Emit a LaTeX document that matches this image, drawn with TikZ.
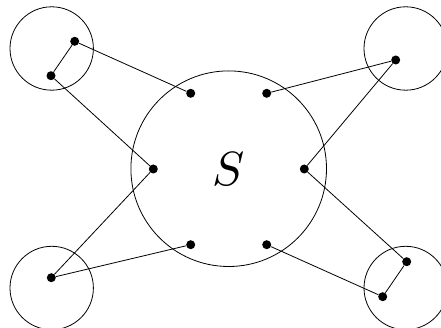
\documentclass[tikz,border=0pt]{standalone}
\usepackage{graphicx}
\begin{document}
\begin{tikzpicture}[x=1pt,y=-1pt,
  ring/.style={draw,line width=0.8pt},
  link/.style={line width=0.8pt},
  pt/.style={circle,fill,inner sep=0pt,minimum size=9pt}]
\useasboundingbox (0,0) rectangle (441,328);
% the big set S and the four small sets
\draw[ring] (228.7,168.7) circle (97.8);
\draw[ring] (51.7,48.5) circle (41.7);
\draw[ring] (405.7,48.5) circle (41.7);
\draw[ring] (51.7,288) circle (41.7);
\draw[ring] (405.7,288) circle (41.7);
\node (S) at (229,169) {\scalebox{4.8}{$S$}};
% points inside S
\node[pt] (s1) at (190.7,93.3) {};
\node[pt] (s2) at (266.7,93.3) {};
\node[pt] (s3) at (153.3,169) {};
\node[pt] (s4) at (304.3,169) {};
\node[pt] (s5) at (190.7,244.7) {};
\node[pt] (s6) at (266.7,244.7) {};
% points in the small sets
\node[pt] (a1) at (74.7,41.3) {};
\node[pt] (a2) at (51,75.7) {};
\node[pt] (b1) at (395.7,60) {};
\node[pt] (c1) at (51.3,277.7) {};
\node[pt] (d1) at (406.7,261.7) {};
\node[pt] (d2) at (382.7,296.7) {};
% connections
\draw[link] (a1) -- (a2);
\draw[link] (a1) -- (s1);
\draw[link] (a2) -- (s3);
\draw[link] (b1) -- (s2);
\draw[link] (b1) -- (s4);
\draw[link] (c1) -- (s3);
\draw[link] (c1) -- (s5);
\draw[link] (d1) -- (d2);
\draw[link] (d1) -- (s4);
\draw[link] (d2) -- (s6);
\end{tikzpicture}
\end{document}
